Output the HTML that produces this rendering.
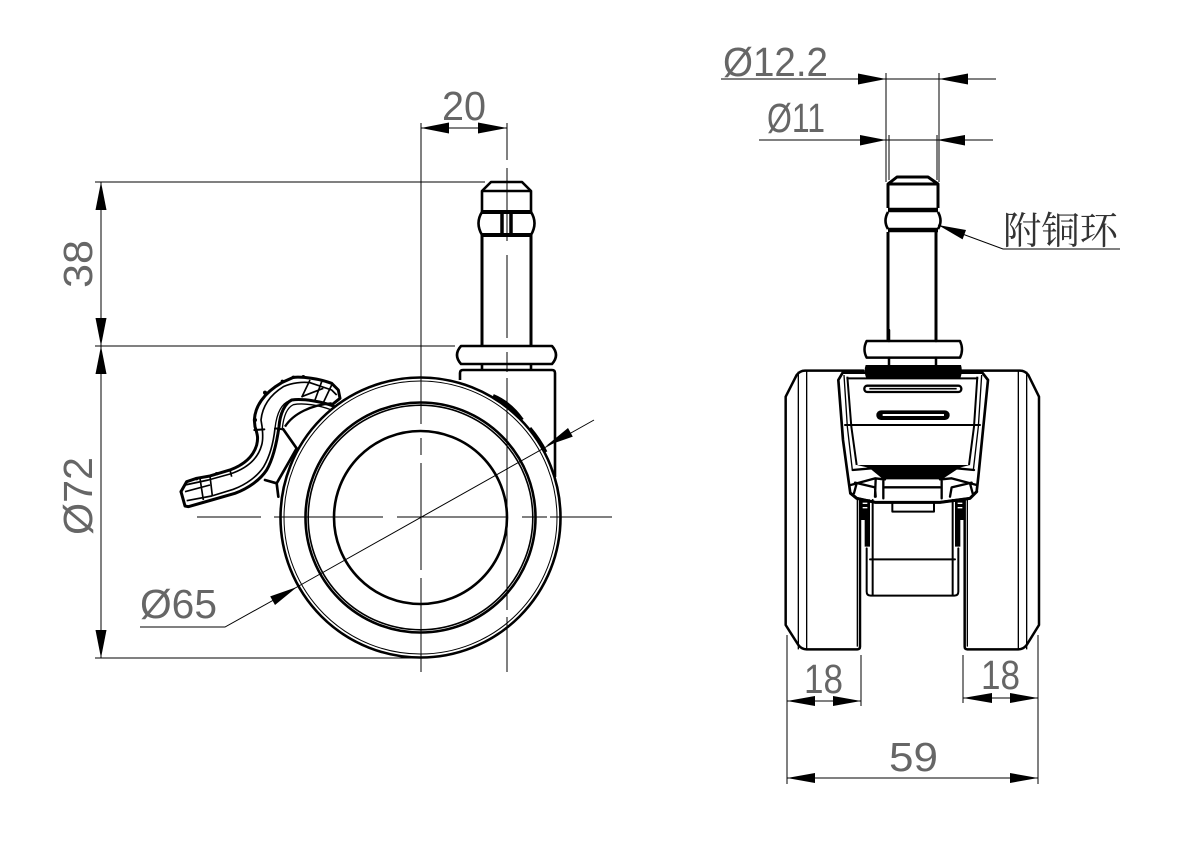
<!DOCTYPE html>
<html><head><meta charset="utf-8"><style>
html,body{margin:0;padding:0;background:#fff}
svg{display:block}
text{font-family:"Liberation Sans","Noto Serif CJK SC",sans-serif;fill:#666;font-size:41px}
.t{stroke:#000;stroke-width:1;fill:none}
.o{stroke:#000;stroke-width:2.6;fill:none;stroke-linejoin:round}
.a{fill:#000;stroke:none}
.z{stroke:#000;stroke-width:7.5;fill:none;stroke-linejoin:round;stroke-linecap:round}
.y{stroke:#000;stroke-width:4;fill:none;stroke-linejoin:round}
.k{stroke:#000;stroke-width:9;fill:none;stroke-linejoin:round;stroke-linecap:round}
</style></head><body>
<svg width="1185" height="841" viewBox="0 0 1185 841" xmlns="http://www.w3.org/2000/svg">
<rect width="1185" height="841" fill="#fff"/>

<!-- LEFT VIEW dims -->
<path class="t" d="M95 182H485M95 346H455M95 658H420M101 182V658M421 123V128M421 128H507"/>
<polygon class="a" points="101,182 95.500,210 106.500,210"/>
<polygon class="a" points="101,346 95.500,318 106.500,318"/>
<polygon class="a" points="101,346 95.500,374 106.500,374"/>
<polygon class="a" points="101,658 95.500,630 106.500,630"/>
<polygon class="a" points="421,128 449,122.500 449,133.500"/>
<polygon class="a" points="507,128 478,122.500 478,133.500"/>
<text x="442" y="120" textLength="44" lengthAdjust="spacingAndGlyphs">20</text>
<text transform="translate(92,288) rotate(-90)" textLength="48" lengthAdjust="spacingAndGlyphs">38</text>
<text transform="translate(92,535) rotate(-90)" textLength="78" lengthAdjust="spacingAndGlyphs">Ø72</text>
<text x="140" y="618" textLength="77" lengthAdjust="spacingAndGlyphs">Ø65</text>
<path class="t" d="M140 627H225L297 587L594 420"/>
<polygon class="a" points="297,587 275,605 270.200,596.400"/>
<polygon class="a" points="546,446 572.800,436.600 568,428"/>

<!-- center lines -->
<path class="t" d="M197 517H261M274 517H383M397 517H507M522 517H547M550 517H612"/>
<path class="t" d="M421 123V424M421 438V455M421 463V570M421 578V672"/>
<path class="t" d="M507 123V160M507 168V241M507 255V338M507 352V372M507 378V610M507 617V672"/>

<!-- stem left view -->
<path class="o" d="M482 212V191L491 182H522L531 191V212"/>
<path class="o" d="M482 191H531"/>
<path class="o" style="stroke-width:4" d="M482 212H531M482 235H531"/>
<path class="o" d="M482 212Q475 223 482 235M531 212Q538 223 531 235"/>
<path class="o" style="stroke-width:3.500" d="M502 212V235M511 214V235"/>
<path class="o" style="stroke-width:3" d="M482 235V346M531 235V346"/>
<path class="o" d="M461 346H552Q560 355 552 364H461Q453 355 461 346Z"/>
<path class="o" d="M482 364V370M531 364V370"/>
<path class="o" d="M460 380V373Q460 370 463 370H552Q555 370 555 373V477"/>

<!-- wheel -->
<circle class="o" cx="420.500" cy="517.500" r="140"/>
<circle class="t" cx="420.500" cy="517.500" r="136.500"/>
<circle class="o" cx="420.500" cy="517.500" r="115"/>
<circle class="t" style="stroke-width:1.6" cx="420.500" cy="517.500" r="112.300"/>
<circle class="o" cx="420.500" cy="517.500" r="86.500"/>
<path d="M493 396Q510 403 522 420" stroke="#000" stroke-width="4" fill="none"/>
<path d="M530 428Q540 440 546 452" stroke="#000" stroke-width="3" fill="none"/>

<!-- lever -->
<g transform="translate(175,370) scale(0.33333)">
<path class="k" d="M18 365L35 335L65 325L105 318L165 300C205 285 235 260 245 225C250 205 248 195 240 170L238 150C240 110 265 70 320 38L355 22C385 20 430 25 470 40L490 60L495 85L470 105"/>
<path class="k" d="M18 365L30 408L40 410L110 390L180 370C220 355 255 330 275 300C295 265 305 220 312 170C315 130 330 100 350 90C385 85 440 95 475 108"/>
<path class="y" style="stroke-width:5" d="M30 345L100 330L165 312C210 297 248 270 260 225C266 205 262 170 258 150C262 110 285 75 325 50C350 38 385 35 405 38L470 60L485 75"/>
<path class="y" style="stroke-width:5" d="M35 392L110 378L175 358C215 343 248 318 266 290C285 258 295 220 300 175"/>
<path class="y" d="M300 175C305 130 320 100 345 92M322 175C326 135 338 112 355 104C385 98 430 105 470 120"/>
<path class="y" style="stroke-width:5" d="M75 325L85 390M105 318L112 378M30 365L105 345M405 30L380 82M440 35L420 90M470 45L445 98M380 80L445 55M165 300L170 320"/>
<path class="k" style="stroke-width:6" d="M238 180L268 178M300 175L325 178"/>
<path class="k" style="stroke-width:8" d="M325 178L365 235M270 330L305 340L345 270L365 235M305 340L310 380"/>
<path class="y" style="stroke-width:7" d="M330 170C355 130 410 105 470 100"/>
<circle cx="270" cy="68" r="6"/><circle cx="240" cy="150" r="6"/><circle cx="65" cy="326" r="5"/><circle cx="125" cy="311" r="5"/><circle cx="322" cy="34" r="5"/><circle cx="355" cy="22" r="5"/><circle cx="385" cy="20" r="5"/>
</g>

<!-- RIGHT VIEW top -->
<path class="t" d="M721 79H996M759 140H993M886 73V182M939 73V182M889 135V180M937 135V180"/>
<polygon class="a" points="886,79 858,73.500 858,84.500"/>
<polygon class="a" points="939,79 968,73.500 968,84.500"/>
<polygon class="a" points="886,140 860,135 860,145.500"/>
<polygon class="a" points="937,140 965,135 965,145.500"/>
<text x="723" y="76" textLength="105" lengthAdjust="spacingAndGlyphs">Ø12.2</text>
<text x="767" y="132" textLength="58" lengthAdjust="spacingAndGlyphs">Ø11</text>
<text x="1003" y="244" textLength="115" lengthAdjust="spacingAndGlyphs" style='font-family:"Noto Serif CJK SC","Liberation Serif",serif;fill:#333;font-size:38px'>附铜环</text>
<path class="t" d="M1120 249H1003L938 225"/>
<polygon class="a" points="938,225 966,230 962.600,239.400"/>

<path class="o" style="stroke-width:3" d="M888 208V184L897 177H928L938 184V208M888 184H938"/>
<path class="o" style="stroke-width:4.500" d="M888 210H938M888 230H938"/>
<path class="o" d="M888 212Q883 221 888 229M938 212Q943 221 938 229"/>
<path class="o" style="stroke-width:3" d="M888 232V341M936 232V341"/>

<g transform="translate(770,330) scale(0.33333)">
<path class="z" d="M290 33H570Q582 58 570 83H290Q277 58 290 33Z"/>
<path class="z" d="M357 0V33M498 0V33M357 83V105M498 83V105"/>
<!-- wheels -->
<path class="z" d="M280 122H105Q90 122 80 135L47 200V885L85 945Q95 958 110 958H262Q270 958 270 950V505"/>
<path class="z" d="M575 122H750Q765 122 775 135L807 200V885L770 945Q760 958 745 958H592Q584 958 584 950V505"/>
<path class="y" d="M85 125V958M110 122V958M745 122V958M770 125V958M262 505V950M592 505V950"/>
<!-- body -->
<path d="M205 150L218 128H637L654 150L640 290L625 440L620 485L600 505L510 517H315L260 505L241 490L234 440L219 330Z" fill="#fff" stroke="#000" stroke-width="8" stroke-linejoin="round"/>
<path class="y" style="stroke-width:6" d="M232 140L244 290L260 405M622 140L612 290L597 405"/>
<path class="y" d="M222 135L232 290L247 420M635 135L625 290L610 420"/>
<path d="M287 105H573Q579 125 570 147H290Q280 125 287 105Z" fill="#000"/>
<path class="z" style="stroke-width:6" d="M232 145H622M225 285H630"/>
<rect x="283" y="167" width="291" height="19" rx="9" fill="#fff" stroke="#000" stroke-width="7"/>
<path d="M298 176H560" stroke="#000" stroke-width="5"/>
<rect x="319" y="241" width="220" height="29" rx="14" fill="#000"/>
<path d="M338 255H522" stroke="#fff" stroke-width="6"/>
<!-- lower body, local coords of close crop -->
<g transform="translate(180,330)">
<path d="M80 75H420L380 85L330 118H165L125 85Z" fill="#000"/>
<path class="z" style="stroke-width:7" d="M68 90L125 85L165 118M432 90L380 85L330 118M62 135L135 115L160 118M440 135L365 115L335 118M75 128L135 142L137 170M425 128L365 142L360 170M80 130L72 160M420 130L428 160M137 118L135 170M160 118V175M335 118V175M165 142H330"/>
<path class="k" d="M62 160L80 175L135 187H330L420 175L440 155"/>
<path class="z" style="stroke-width:6" d="M187 190V215H312V190"/>
<path d="M90 178H120V240H90ZM375 178H405V240H375Z" fill="#000"/>
</g>
<!-- below -->
<path d="M275 508H300V650H284V545H275ZM555 508H580V545H571V650H555Z" fill="#000"/>
<path d="M278 520H292M278 533H292M563 520H577M563 533H577" stroke="#fff" stroke-width="4"/>
<path class="z" style="stroke-width:6" d="M290 655V785Q290 797 302 797H553Q565 797 565 785V655M308 510V795M548 510V795M300 688H555"/>
</g>

<!-- bottom dims -->
<path class="t" d="M787 635V784M1038 635V784M861 655V706M963 655V703M787 701H861M963 698H1038M787 778H1038"/>
<polygon class="a" points="787,701 815,696 815,706"/>
<polygon class="a" points="861,701 833,696 833,706"/>
<polygon class="a" points="963,698 992,693 992,703"/>
<polygon class="a" points="1038,698 1010,693 1010,703"/>
<polygon class="a" points="787,778 815,773 815,783"/>
<polygon class="a" points="1038,778 1010,773 1010,783"/>
<text x="804" y="693" textLength="39" lengthAdjust="spacingAndGlyphs">18</text>
<text x="981" y="689" textLength="39" lengthAdjust="spacingAndGlyphs">18</text>
<text x="889" y="771" textLength="49" lengthAdjust="spacingAndGlyphs">59</text>
</svg>
</body></html>
